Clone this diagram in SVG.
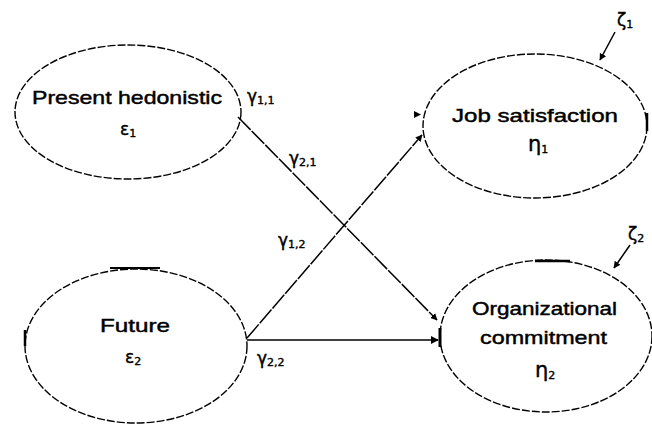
<svg xmlns="http://www.w3.org/2000/svg" width="652" height="425" viewBox="0 0 652 425">
<style>
.ell{fill:none;stroke:#000;stroke-width:1.4;stroke-dasharray:8 2}
.lbl{font-family:"Liberation Sans",Arial,sans-serif;font-size:19px;fill:#000;stroke:#000;stroke-width:0.45}
.gr{font-family:"DejaVu Sans","Liberation Sans",sans-serif;font-size:17px;fill:#000;stroke:#000;stroke-width:0.4}
.big{font-size:21px}
.sub{font-size:11px}
.con{fill:none;stroke:#000;stroke-width:1.5}
</style>
<defs>
<marker id="ah" viewBox="0 0 10 10" refX="9" refY="5" markerWidth="7" markerHeight="7" markerUnits="userSpaceOnUse" orient="auto">
<path d="M0,0 L10,5 L0,10 z" fill="#000"/>
</marker>
<marker id="ah2" viewBox="0 0 10 10" refX="9" refY="5" markerWidth="8" markerHeight="8" markerUnits="userSpaceOnUse" orient="auto">
<path d="M0,0 L10,5 L0,10 z" fill="#000"/>
</marker>
</defs>
<rect width="652" height="425" fill="#fff"/>

<g id="connectors">
<line class="con" x1="238" y1="117" x2="437" y2="320" stroke-dasharray="18 1.5" marker-end="url(#ah)"/>
<line class="con" x1="247" y1="338" x2="422" y2="135" stroke-dasharray="18 1.5" marker-end="url(#ah)"/>
<line class="con" x1="247" y1="340" x2="438" y2="340" stroke-width="2.6" marker-end="url(#ah2)"/>
<line x1="440" y1="328" x2="440" y2="347" stroke="#000" stroke-width="3"/>
<polygon points="414,111 421,114.5 414,118" fill="#000"/>
<line class="con" x1="615" y1="32" x2="600" y2="60" marker-end="url(#ah)"/>
<line class="con" x1="630" y1="245" x2="614" y2="268" marker-end="url(#ah)"/>
<text class="gr" x="247" y="102">γ<tspan class="sub" dy="2">1,1</tspan></text>
<text class="gr" x="289" y="164">γ<tspan class="sub" dy="2">2,1</tspan></text>
<text class="gr" x="278" y="246">γ<tspan class="sub" dy="2">1,2</tspan></text>
<text class="gr" x="257" y="364">γ<tspan class="sub" dy="2">2,2</tspan></text>
<text class="gr" x="617" y="26" font-size="19">ζ<tspan class="sub" dy="2">1</tspan></text>
<text class="gr" x="628" y="240" font-size="19">ζ<tspan class="sub" dy="2">2</tspan></text>
</g>

<g id="present">
<ellipse class="ell" cx="128" cy="112" rx="113" ry="67"/>
<text class="lbl" x="32" y="104" textLength="190" lengthAdjust="spacingAndGlyphs">Present hedonistic</text>
<text class="gr" x="120" y="135">ε<tspan class="sub" dy="2">1</tspan></text>
</g>

<g id="future">
<ellipse class="ell" cx="136" cy="346" rx="111" ry="77"/>
<line x1="110" y1="268" x2="160" y2="268" stroke="#000" stroke-width="2"/>
<line x1="25" y1="330" x2="25" y2="346" stroke="#000" stroke-width="2.5"/>
<text class="lbl" x="100" y="332" font-size="21" textLength="70" lengthAdjust="spacingAndGlyphs">Future</text>
<text class="gr" x="125" y="363">ε<tspan class="sub" dy="2">2</tspan></text>
</g>

<g id="job">
<ellipse class="ell" cx="535" cy="126" rx="112" ry="72"/>
<line x1="647" y1="113" x2="647" y2="131" stroke="#000" stroke-width="2.5"/>
<text class="lbl" x="452" y="122" textLength="166" lengthAdjust="spacingAndGlyphs">Job satisfaction</text>
<text class="gr big" x="528" y="151">η<tspan class="sub" dy="2">1</tspan></text>
</g>

<g id="org">
<ellipse class="ell" cx="546" cy="336" rx="106" ry="76"/>
<line x1="535" y1="261" x2="570" y2="261" stroke="#000" stroke-width="2.5"/>
<text class="lbl" x="472" y="315" textLength="145" lengthAdjust="spacingAndGlyphs">Organizational</text>
<text class="lbl" x="480" y="344" textLength="127" lengthAdjust="spacingAndGlyphs">commitment</text>
<text class="gr big" x="535" y="377">η<tspan class="sub" dy="2">2</tspan></text>
</g>
</svg>
